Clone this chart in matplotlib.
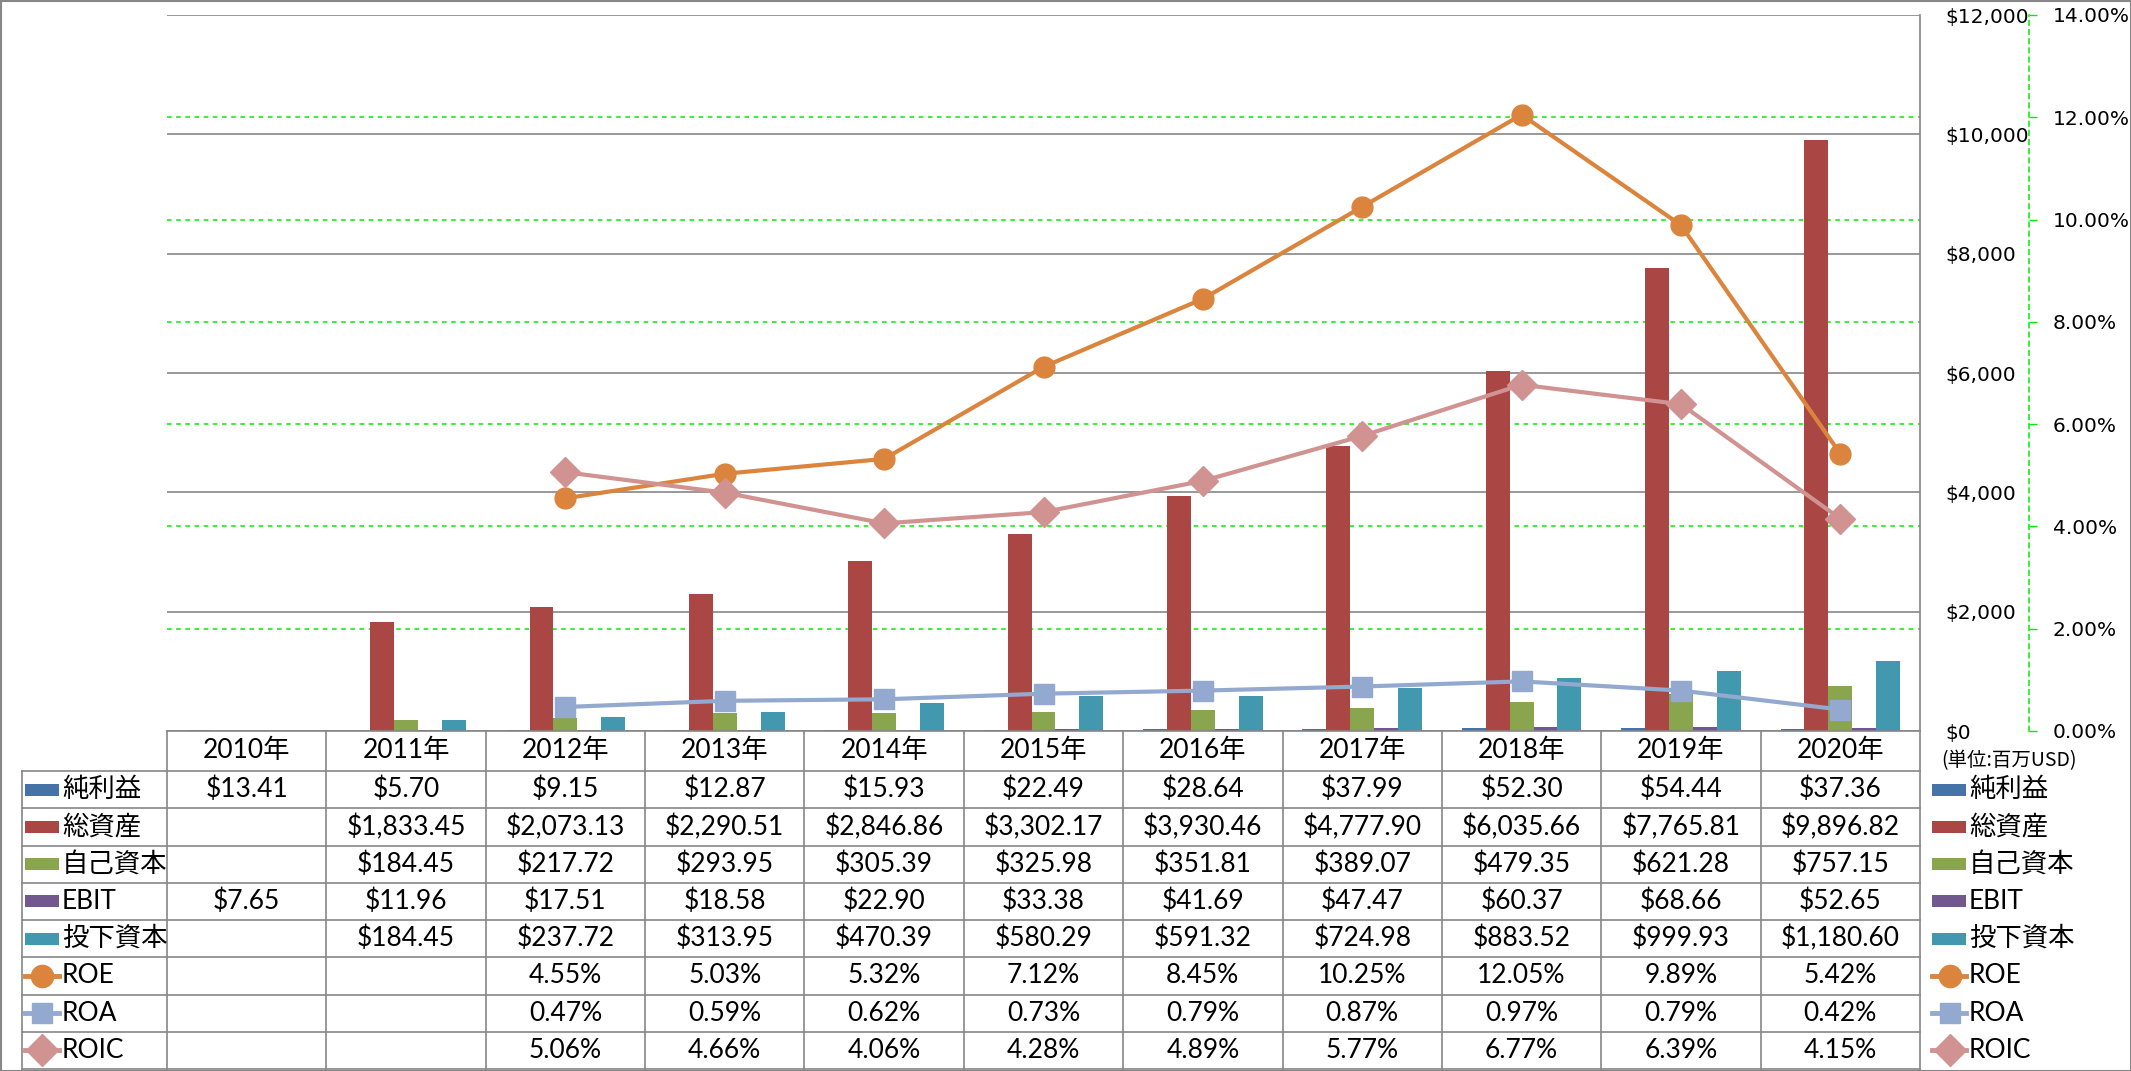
import matplotlib
matplotlib.use('Agg')
import matplotlib.pyplot as plt
import numpy as np
from matplotlib.transforms import blended_transform_factory
from matplotlib.lines import Line2D
from matplotlib.patches import Rectangle

plt.rcParams['font.family'] = ['Lato', 'Noto Sans CJK JP', 'DejaVu Sans']

nan = np.nan
years = ['2010年', '2011年', '2012年', '2013年', '2014年', '2015年',
         '2016年', '2017年', '2018年', '2019年', '2020年']
net_income = [13.41, 5.70, 9.15, 12.87, 15.93, 22.49, 28.64, 37.99, 52.30, 54.44, 37.36]
total_assets = [nan, 1833.45, 2073.13, 2290.51, 2846.86, 3302.17, 3930.46, 4777.90, 6035.66, 7765.81, 9896.82]
equity = [nan, 184.45, 217.72, 293.95, 305.39, 325.98, 351.81, 389.07, 479.35, 621.28, 757.15]
ebit = [7.65, 11.96, 17.51, 18.58, 22.90, 33.38, 41.69, 47.47, 60.37, 68.66, 52.65]
invested = [nan, 184.45, 237.72, 313.95, 470.39, 580.29, 591.32, 724.98, 883.52, 999.93, 1180.60]
roe = [nan, nan, 4.55, 5.03, 5.32, 7.12, 8.45, 10.25, 12.05, 9.89, 5.42]
roa = [nan, nan, 0.47, 0.59, 0.62, 0.73, 0.79, 0.87, 0.97, 0.79, 0.42]
roic = [nan, nan, 5.06, 4.66, 4.06, 4.28, 4.89, 5.77, 6.77, 6.39, 4.15]

bar_names = ['純利益', '総資産', '自己資本', 'EBIT', '投下資本']
bar_colors = ['#4572A7', '#AA4643', '#89A54E', '#71588F', '#4198AF']
line_names = ['ROE', 'ROA', 'ROIC']
line_colors = ['#DB843D', '#93A9CF', '#D19392']
line_markers = ['o', 's', 'D']
line_ms = [15, 14, 15]

W, H = 2131, 1071
def fx(p):
    return p / W
def fy(p):
    return 1 - p / H

grid_gray = '#868686'
green = '#00EE00'

fig = plt.figure(figsize=(W / 100, H / 100), dpi=100)
ax = fig.add_axes([fx(167), fy(731), fx(1920) - fx(167), fy(15) - fy(731)])

x = np.arange(len(years))
bar_series = [net_income, total_assets, equity, ebit, invested]
for i, (vals, c) in enumerate(zip(bar_series, bar_colors)):
    ax.bar(x + (i - 2) * 0.15, vals, width=0.15, color=c, zorder=2)

ax.set_xlim(-0.5, len(years) - 0.5)
ax.set_ylim(0, 12000)
ax.set_yticks(np.arange(0, 12001, 2000))
ax.yaxis.set_major_formatter(lambda v, p: f'${v:,.0f}')
ax.set_xticks([])
ax.yaxis.grid(True, color=grid_gray, lw=1.2)
ax.set_axisbelow(True)
for s in ['left', 'top']:
    ax.spines[s].set_visible(False)
for s in ['right', 'bottom']:
    ax.spines[s].set_color(grid_gray)
    ax.spines[s].set_linewidth(1.2)

# secondary-axis gridlines, drawn under the bars
pct_max = 0.14
pct_ticks = np.arange(0, pct_max + 0.001, 0.02)
for v in pct_ticks[1:-1]:
    ax.axhline(v / pct_max * 12000, color=green, lw=1.1, ls=(0, (3, 3)), zorder=1)

ax2 = ax.twinx()
ax.yaxis.tick_right()
ax.tick_params(axis='y', which='both', left=False, right=True, labelleft=False,
               labelright=True, length=0, pad=18, labelsize=14.5,
               labelfontfamily='DejaVu Sans')

ax2.set_ylim(0, pct_max)
ax2.set_yticks(pct_ticks)
ax2.yaxis.set_major_formatter(lambda v, p: f'{v * 100:.2f}%')
for s in ['left', 'top', 'bottom']:
    ax2.spines[s].set_visible(False)
ax2.spines['right'].set_position(('outward', (2029 - 1920) * 0.72))
ax2.spines['right'].set_color(green)
ax2.spines['right'].set_linestyle((0, (3, 3)))
ax2.spines['right'].set_linewidth(1.1)
ax2.tick_params(axis='y', color=green, length=6, width=1, pad=11, labelsize=14.5,
                labelfontfamily='DejaVu Sans')

line_series = [roe, roa, roic]
for vals, c, m, ms in zip(line_series, line_colors, line_markers, line_ms):
    ax2.plot(x, np.array(vals) / 100, color=c, lw=3, marker=m, ms=ms,
             mec=c, mfc=c, zorder=3, clip_on=False)

# data table
tr = blended_transform_factory(ax.transData, fig.transFigure)
row_h = (1069 - 771) / 8
row_edges = [771 + row_h * k for k in range(9)]
row_centers = [771 + row_h * (k + 0.5) for k in range(8)]
lw_t = 1.2

for b in np.arange(-0.5, len(years), 1.0):
    fig.add_artist(Line2D([b, b], [fy(731), fy(1069)], transform=tr, color=grid_gray, lw=lw_t))
fig.add_artist(Line2D([fx(22), fx(22)], [fy(771), fy(1069)], transform=fig.transFigure, color=grid_gray, lw=lw_t))
for e in row_edges:
    fig.add_artist(Line2D([fx(22), fx(1920)], [fy(e), fy(e)], transform=fig.transFigure, color=grid_gray, lw=lw_t))

fs = 19
for i, yr in enumerate(years):
    fig.text(i, fy(751), yr, transform=tr, ha='center', va='center', fontsize=fs)

rows_text = []
for vals in bar_series:
    rows_text.append(['' if np.isnan(v) else f'${v:,.2f}' for v in vals])
for vals in line_series:
    rows_text.append(['' if np.isnan(v) else f'{v:.2f}%' for v in vals])

for r, cells in enumerate(rows_text):
    for i, t in enumerate(cells):
        if t:
            fig.text(i, fy(row_centers[r]), t, transform=tr, ha='center', va='center', fontsize=fs)

names = bar_names + line_names
colors = bar_colors + line_colors


def legend_key(r, x0, x1, xm, tx):
    yc = fy(row_centers[r])
    if r < len(bar_names):
        fig.add_artist(Rectangle((fx(x0), yc - 6 / H), fx(x1) - fx(x0), 12 / H,
                                 transform=fig.transFigure, color=colors[r], lw=0))
    else:
        k = r - len(bar_names)
        fig.add_artist(Line2D([fx(x0), fx(x1)], [yc, yc], transform=fig.transFigure,
                              color=colors[r], lw=3.5))
        fig.add_artist(Line2D([fx(xm)], [yc], transform=fig.transFigure, color=colors[r],
                              marker=line_markers[k], ms=line_ms[k] + 1, lw=0))
    fig.text(fx(tx), yc, names[r], ha='left', va='center', fontsize=fs)


for r in range(len(names)):
    legend_key(r, 25, 59, 42, 62)
    legend_key(r, 1932, 1966, 1950, 1969)

fig.text(fx(1941), fy(761), '(単位:百万USD)', ha='left', va='center', fontsize=14,
         family=['Noto Sans CJK JP'])

fig.add_artist(Rectangle((0.5 / W, 0.5 / H), 1 - 1 / W, 1 - 1 / H, transform=fig.transFigure,
                         fill=False, edgecolor=grid_gray, lw=1.5))

fig.savefig('out.png', dpi=100)
